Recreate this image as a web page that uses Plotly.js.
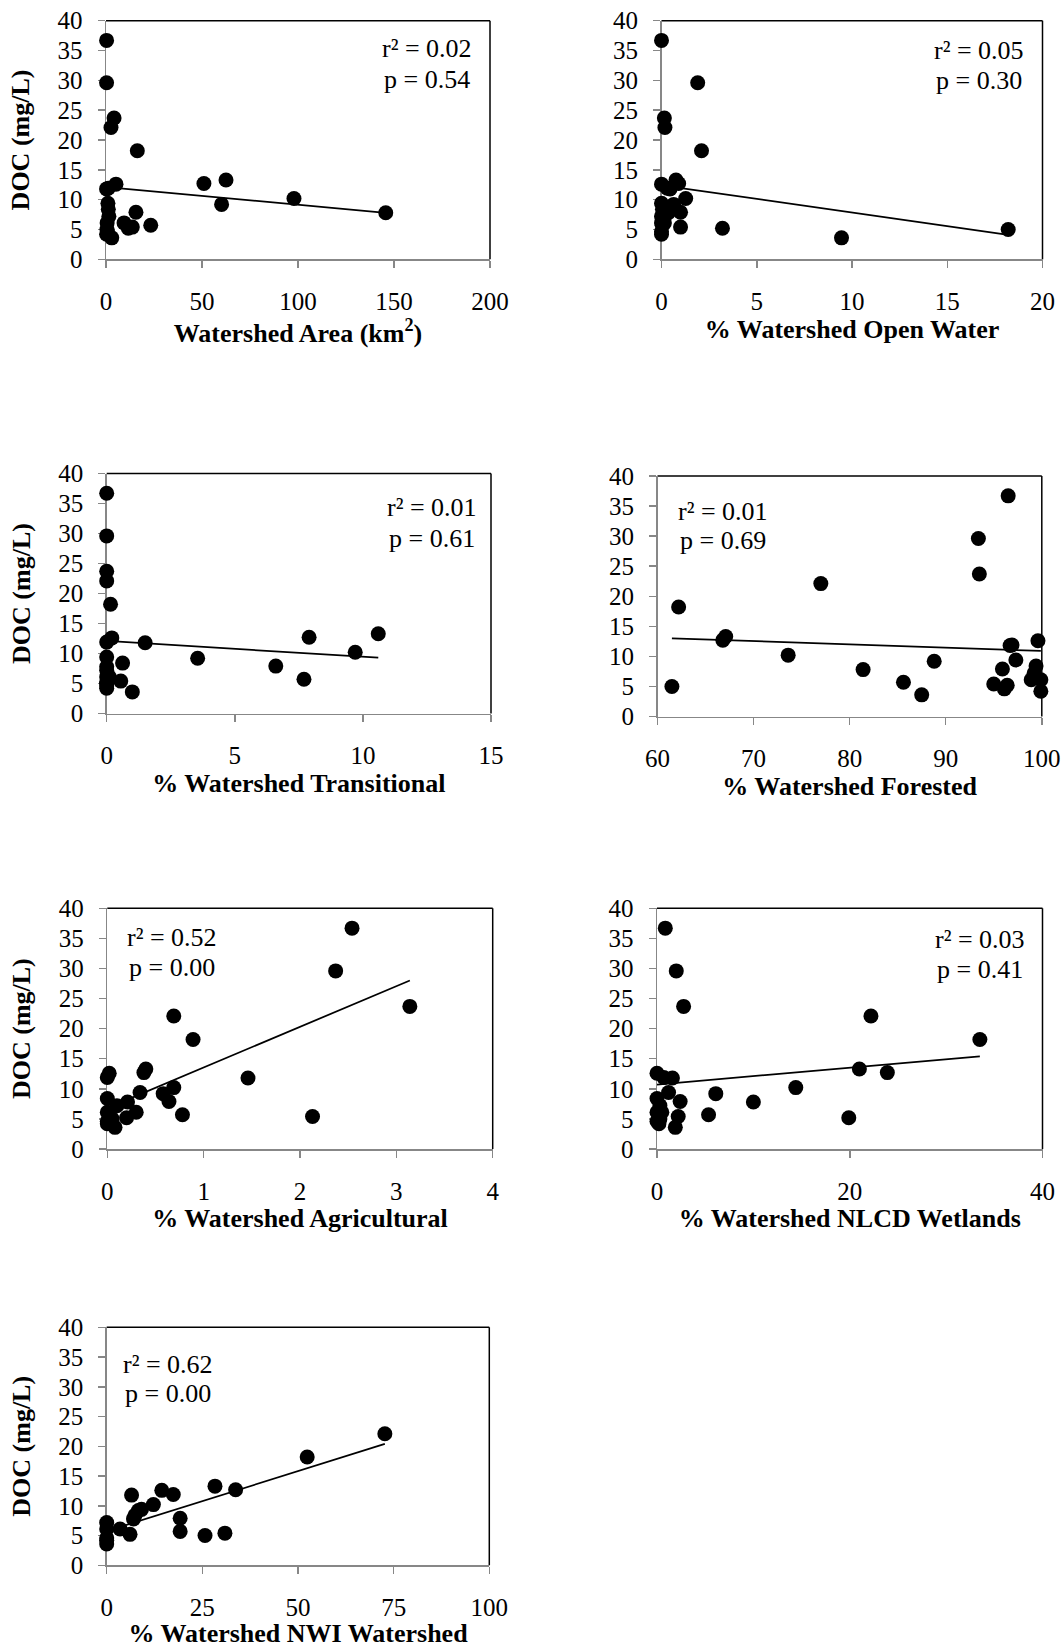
<!DOCTYPE html>
<html>
<head>
<meta charset="utf-8">
<script src="https://cdn.plot.ly/plotly-3.0.1.min.js"></script>
<style>
html,body{margin:0;padding:0;background:#fff;}
#chart{width:1063px;height:1648px;}
</style>
</head>
<body>
<div id="chart"></div>
<script>
// ---- DATA ----
// One value per sampled site (26 sites); DOC in mg/L
const doc          = [36.7, 29.6, 23.7, 22.1, 18.2, 13.3, 12.7, 12.6, 11.8, 11.9, 10.2, 9.4, 9.2, 8.4, 7.9, 7.8, 7.2, 6.1, 6.1, 5.7, 5.4, 5.2, 5.0, 4.6, 4.2, 3.6];
const areaKm2      = [0.3, 0.3, 4.2, 2.6, 16.3, 62.5, 51.0, 5.2, 0.3, 1.2, 97.9, 1.0, 60.2, 1.2, 15.6, 145.7, 1.5, 9.4, 0.6, 23.3, 13.7, 11.6, 0.5, 0.8, 0.3, 3.0];
const openWater    = [0.0, 1.9, 0.15, 0.18, 2.1, 0.76, 0.9, 0.0, 0.45, 0.3, 1.27, 0.0, 0.64, 0.05, 1.0, 0.36, 0.0, 0.0, 0.15, 0.05, 1.0, 3.2, 18.2, 0.0, 0.0, 9.45];
const transitional = [0.0, 0.0, 0.0, 0.0, 0.15, 10.6, 7.9, 0.2, 1.5, 0.0, 9.7, 0.0, 3.55, 0.62, 6.6, 0.0, 0.0, 0.0, 0.1, 7.7, 0.55, 0.0, 0.0, 0.0, 0.0, 1.0];
const forested     = [96.5, 93.4, 93.5, 77.0, 62.2, 67.1, 66.8, 99.6, 96.7, 96.9, 73.6, 97.3, 88.8, 99.4, 95.9, 81.4, 99.2, 98.9, 99.9, 85.6, 95.0, 96.4, 61.5, 96.1, 99.9, 87.5];
const agricultural = [2.54, 2.37, 3.14, 0.69, 0.89, 0.40, 0.38, 0.02, 1.46, 0.0, 0.69, 0.34, 0.58, 0.0, 0.64, 0.21, 0.10, 0.30, 0.0, 0.78, 2.13, 0.20, 0.05, 0.0, 0.0, 0.08];
const nlcdWetlands = [0.86, 2.0, 2.76, 22.2, 33.5, 21.0, 23.9, 0.0, 1.6, 0.7, 14.4, 1.2, 6.1, 0.0, 2.4, 10.0, 0.3, 0.0, 0.5, 5.35, 2.2, 19.9, 0.3, 0.0, 0.2, 1.9];
const nwiWetlands  = [null, null, null, 72.7, 52.4, 28.3, 33.7, 14.4, 6.5, 17.4, 12.2, 9.1, 8.3, 7.4, 19.2, 7.0, 0.0, 3.5, 0.0, 19.2, 30.9, 6.1, 25.7, 0.0, 0.0, 0.0];

// Linear trend line end points
const trendAreaX  = [0.3, 145.7], trendAreaY  = [12.1, 7.8];
const trendOpenX  = [0.0, 18.2],  trendOpenY  = [12.4, 4.1];
const trendTransX = [0.0, 10.6],  trendTransY = [12.1, 9.3];
const trendForX   = [61.5, 99.9], trendForY   = [13.0, 10.9];
const trendAgriX  = [0.0, 3.14],  trendAgriY  = [6.8, 28.0];
const trendNlcdX  = [0.0, 33.5],  trendNlcdY  = [10.7, 15.4];
const trendNwiX   = [0.0, 72.7],  trendNwiY   = [5.75, 20.4];

const r2Labels = ["0.02", "0.05", "0.01", "0.01", "0.52", "0.03", "0.62"];
const pLabels  = ["0.54", "0.30", "0.61", "0.69", "0.00", "0.41", "0.00"];
const xTitles  = ["Watershed Area (km<sup>2</sup>)", "% Watershed Open Water", "% Watershed Transitional",
                  "% Watershed Forested", "% Watershed Agricultural", "% Watershed NLCD Wetlands",
                  "% Watershed NWI Watershed"];
const yTitle   = "DOC (mg/L)";
const yTicks   = [0, 5, 10, 15, 20, 25, 30, 35, 40];

// ---- LAYOUT ----
const W = 1063, H = 1648;
const FONT = "Liberation Serif, Times New Roman, serif";
const GRAY = "#878787";

const series = [areaKm2, openWater, transitional, forested, agricultural, nlcdWetlands, nwiWetlands];
const trends = [[trendAreaX, trendAreaY], [trendOpenX, trendOpenY], [trendTransX, trendTransY],
                [trendForX, trendForY], [trendAgriX, trendAgriY], [trendNlcdX, trendNlcdY], [trendNwiX, trendNwiY]];

// pixel boxes of plot areas: [left, right, top, bottom]
const boxes = [
  [106, 490, 20.7, 259.3],
  [661.5, 1042.5, 20.7, 259.3],
  [106.7, 491, 473.5, 713.5],
  [657.5, 1041.8, 476, 716.5],
  [107.3, 492.7, 908.3, 1149],
  [657, 1042.5, 908.3, 1149],
  [106.7, 489.3, 1327.3, 1565.3]
];
const xRanges = [[0, 200], [0, 20], [0, 15], [60, 100], [0, 4], [0, 40], [0, 100]];
const xDticks = [50, 5, 5, 10, 1, 20, 25];
// centre of the stats text: [x, y of r² line, y of p line]
const statPos = [
  [427, 49, 80], [979, 50.5, 81], [431.7, 507, 538], [722.5, 511, 540],
  [171.7, 937, 968], [980, 939, 969], [168.3, 1364, 1393]
];

const px = x => x / W;
const py = y => 1 - y / H;

const data = [];
const layout = {
  width: W, height: H,
  margin: {l: 0, r: 0, t: 0, b: 0},
  paper_bgcolor: "#fff", plot_bgcolor: "#fff",
  showlegend: false,
  font: {family: FONT, color: "#000"},
  shapes: [], annotations: []
};

series.forEach((xs, i) => {
  const n = i === 0 ? "" : String(i + 1);
  const [l, r, t, b] = boxes[i];
  const left = (i % 2 === 0);
  layout["xaxis" + n] = {
    domain: [px(l), px(r)],
    range: xRanges[i], tick0: xRanges[i][0], dtick: xDticks[i],
    anchor: "y" + n,
    showline: true, linecolor: GRAY, linewidth: 1.5,
    ticks: "outside", ticklen: 7, tickwidth: 1.5, tickcolor: GRAY,
    ticklabelstandoff: 12,
    showgrid: false, zeroline: false, layer: "below traces",
    tickfont: {family: FONT, size: 25, color: "#000"},
    title: {text: "<b>" + xTitles[i] + "</b>", font: {family: FONT, size: 26, color: "#000"}, standoff: 0},
    fixedrange: true
  };
  const ya = {
    domain: [py(b), py(t)],
    range: [0, 40], tickvals: yTicks,
    anchor: "x" + n,
    showline: true, linecolor: GRAY, linewidth: 1.5,
    ticks: "outside", ticklen: 7, tickwidth: 1.5, tickcolor: GRAY,
    ticklabelstandoff: 10,
    showgrid: false, zeroline: false, layer: "below traces",
    tickfont: {family: FONT, size: 25, color: "#000"},
    fixedrange: true
  };
  if (left) ya.title = {text: "<b>" + yTitle + "</b>", font: {family: FONT, size: 26, color: "#000"}, standoff: 20};
  layout["yaxis" + n] = ya;

  // top and right border of the plot area
  layout.shapes.push({type: "line", xref: "paper", yref: "paper", x0: px(l), x1: px(r), y0: py(t), y1: py(t),
                      line: {color: "#000", width: 1.5}, layer: "below"});
  layout.shapes.push({type: "line", xref: "paper", yref: "paper", x0: px(r), x1: px(r), y0: py(t), y1: py(b),
                      line: {color: "#000", width: 1.5}, layer: "below"});
  // stats text
  const [sx, sy1, sy2] = statPos[i];
  layout.annotations.push({xref: "paper", yref: "paper", x: px(sx), y: py(sy1), xanchor: "center", yanchor: "middle",
                           text: "r² = " + r2Labels[i], showarrow: false, font: {family: FONT, size: 26, color: "#000"}});
  layout.annotations.push({xref: "paper", yref: "paper", x: px(sx), y: py(sy2), xanchor: "center", yanchor: "middle",
                           text: "p = " + pLabels[i], showarrow: false, font: {family: FONT, size: 26, color: "#000"}});

  data.push({
    type: "scatter", mode: "markers", x: xs, y: doc,
    xaxis: "x" + n, yaxis: "y" + n,
    marker: {color: "#000", size: 15},
    cliponaxis: false, hoverinfo: "skip"
  });
  data.push({
    type: "scatter", mode: "lines", x: trends[i][0], y: trends[i][1],
    xaxis: "x" + n, yaxis: "y" + n,
    line: {color: "#000", width: 1.75},
    cliponaxis: false, hoverinfo: "skip"
  });
});

Plotly.newPlot("chart", data, layout, {staticPlot: true, displayModeBar: false});
</script>
</body>
</html>
